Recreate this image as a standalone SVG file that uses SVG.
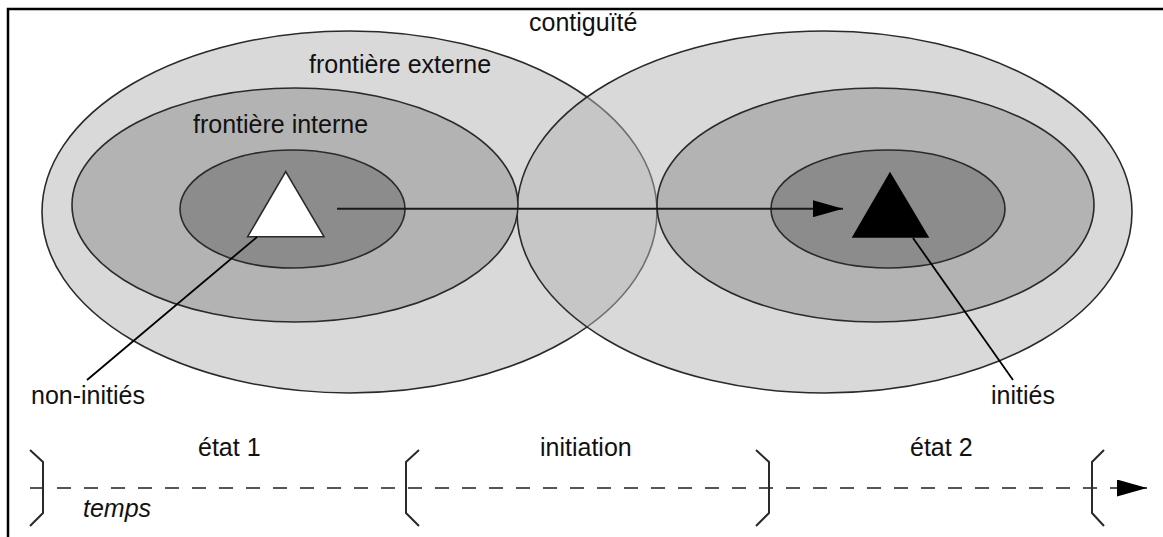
<svg xmlns="http://www.w3.org/2000/svg" width="1163" height="537" viewBox="0 0 1163 537">
<defs>
<style>
.lbl{font-family:"Liberation Sans",Arial,sans-serif;font-size:25px;fill:#111}
.it{font-style:italic}
.ring{stroke:#2a2a2a;stroke-width:1.6}
.br{fill:none;stroke:#2a2a2a;stroke-width:2}
</style>
<marker id="ah" viewBox="0 0 30 17" refX="30" refY="8.5" markerWidth="30" markerHeight="17" markerUnits="userSpaceOnUse" orient="auto">
<path d="M0,0 L30,8.5 L0,17 Z" fill="#000"/>
</marker>
</defs>
<rect width="1163" height="537" fill="#fff"/>
<path d="M8,537 V9 H1163" fill="none" stroke="#000" stroke-width="2.5"/>
<g id="etat1">
<ellipse class="ring" cx="349.5" cy="212" rx="307.5" ry="181" fill="#d9d9d9"/>
</g>
<g id="etat2">
<ellipse class="ring" cx="824.5" cy="212" rx="307.5" ry="181" fill="#b3b3b3" fill-opacity="0.5"/>
</g>
<g id="frontiere-interne-1">
<ellipse class="ring" cx="295" cy="205" rx="223" ry="117" fill="#b3b3b3"/>
</g>
<g id="frontiere-interne-2">
<ellipse class="ring" cx="875.5" cy="205" rx="218.5" ry="117" fill="#b3b3b3"/>
</g>
<g id="noyau-1">
<ellipse class="ring" cx="292.5" cy="209" rx="112.5" ry="59" fill="#8c8c8c"/>
<polygon points="285.7,171.7 247.7,236.7 324,236.7" fill="#fff" stroke="#2a2a2a" stroke-width="1.6"/>
</g>
<g id="noyau-2">
<ellipse class="ring" cx="888" cy="209" rx="117" ry="59" fill="#8c8c8c"/>
<polygon points="890,171.7 851.7,237.7 929.3,237.7" fill="#000"/>
</g>
<g id="connectors">
<line x1="337" y1="208.7" x2="843" y2="208.7" stroke="#1a1a1a" stroke-width="2" marker-end="url(#ah)"/>
<line x1="257" y1="237" x2="87" y2="380" stroke="#000" stroke-width="1.8"/>
<line x1="913" y1="238" x2="1013" y2="380" stroke="#000" stroke-width="1.8"/>
<line x1="30" y1="488" x2="1147" y2="488" stroke="#555" stroke-width="2" stroke-dasharray="14 13" marker-end="url(#ah)"/>
<path class="br" d="M30,450 L43,462 L43,513 L30,526"/>
<path class="br" d="M419,450 L406,462 L406,513 L419,526"/>
<path class="br" d="M756,450 L769,462 L769,513 L756,526"/>
<path class="br" d="M1104,450 L1092,462 L1092,513 L1104,526"/>
</g>
<g id="labels">
<text class="lbl" x="529" y="31">contiguïté</text>
<text class="lbl" x="309" y="73">frontière externe</text>
<text class="lbl" x="193" y="133">frontière interne</text>
<text class="lbl" x="31" y="404">non-initiés</text>
<text class="lbl" x="991" y="404">initiés</text>
<text class="lbl" x="198" y="456">état 1</text>
<text class="lbl" x="540" y="456">initiation</text>
<text class="lbl" x="910" y="456">état 2</text>
<text class="lbl it" x="83" y="517">temps</text>
</g>
</svg>
